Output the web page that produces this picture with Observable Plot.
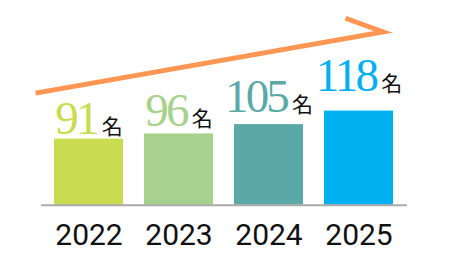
<!DOCTYPE html>
<html><head><meta charset="utf-8">
<script src="https://cdn.jsdelivr.net/npm/d3@7"></script>
<script src="https://cdn.jsdelivr.net/npm/@observablehq/plot@0.6"></script>
<style>body{margin:0;background:#fff}</style>
</head><body><div id="chart"></div>
<script>
// ---- data ----
const years = ["2022", "2023", "2024", "2025"];
const values = [91, 96, 105, 118];
const unit = "名";
const colors = ["#c9dc51", "#a9d18e", "#5ba9a6", "#00b0f0"];

// ---- derived tables ----
const yBase = 27.5;        // truncated value axis start
const yTop = 224.3;        // value axis top
const data = years.map((year, i) => ({year, value: values[i]}));
const labelLift = v => 4.5 + 0.55 * (v - values[0]);
const arrowData = [{
  from: years[0], to: years[years.length - 1],
  y1: values[0] + 53.3, y2: values[values.length - 1] + 72
}];

const chart = Plot.plot({
  width: 452, height: 273,
  marginTop: 0, marginBottom: 68.3, marginLeft: 33, marginRight: 38,
  x: {domain: years, padding: 0.233, label: null},
  y: {domain: [yBase, yTop], axis: null},
  color: {domain: years, range: colors},
  style: {background: "#fff"},
  marks: [
    Plot.barY(data, {x: "year", y1: yBase, y2: "value", fill: "year"}),
    Plot.ruleY([yBase], {stroke: "#aaaaaa", strokeWidth: 2, insetLeft: 8, insetRight: 7}),
    Plot.axisX({tickSize: 0, tickPadding: 18, fontSize: 30, fontFamily: "Roboto", color: "#111", label: null}),
    Plot.text(data, {
      x: "year", y: d => d.value + labelLift(d.value),
      text: d => `${d.value}${unit}`, fill: "year",
      fontSize: 47, fontFamily: "Liberation Serif", textAnchor: "middle"
    }),
    Plot.arrow(arrowData, {
      x1: "from", x2: "to", y1: "y1", y2: "y2",
      stroke: "#ff9654", strokeWidth: 5, headLength: 12, headAngle: 60,
      insetStart: -54.3, insetEnd: -24.5,
      strokeLinejoin: "miter", strokeLinecap: "butt", strokeMiterlimit: 12
    })
  ]
});

// value labels: split number and unit into styled tspans
d3.select(chart).selectAll("text").each(function () {
  const t = this.textContent;
  if (!t.endsWith(unit) || t.length < 2) return;
  const num = t.slice(0, -unit.length);
  const sel = d3.select(this);
  ["y", "dy"].forEach(a => { const v = sel.attr(a); if (v && /em$/.test(v)) sel.attr(a, null); });
  sel.text(null);
  sel.append("tspan").attr("letter-spacing", "-2.8px").text(num);
  sel.append("tspan").attr("dx", 5).attr("font-size", 21)
    .attr("font-family", "'Noto Sans CJK JP', sans-serif").attr("fill", "#111").text(unit);
});

// arrow: keep only the upper barb, joined to the shaft
d3.select(chart).selectAll("path").each(function () {
  const d = this.getAttribute("d") || "";
  const n = (d.match(/-?\d*\.?\d+(?:e-?\d+)?/g) || []).map(Number);
  if (n.length !== 10) return;
  const [x1, y1, x2, y2, x3, y3, , , x4, y4] = n;
  const [xu, yu] = y3 < y4 ? [x3, y3] : [x4, y4];
  this.setAttribute("d", `M${x1},${y1}L${x2},${y2}L${xu},${yu}`);
  this.setAttribute("fill", "none");
});

document.getElementById("chart").append(chart);
</script>
</body></html>
